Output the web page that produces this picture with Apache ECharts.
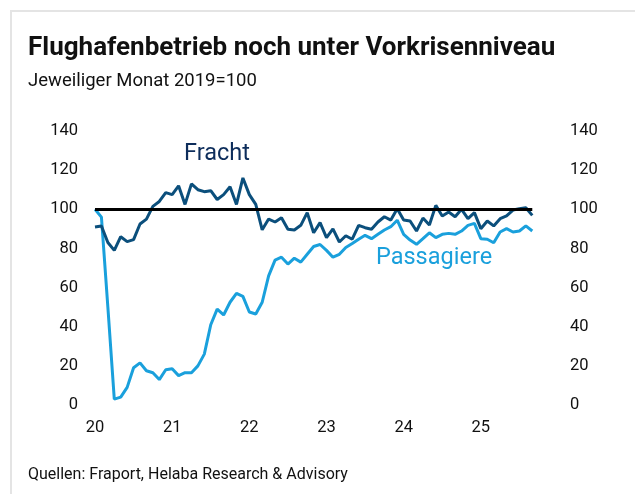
<!DOCTYPE html>
<html>
<head>
<meta charset="utf-8">
<script src="https://cdn.jsdelivr.net/npm/echarts@6/dist/echarts.min.js"></script>
<style>
html,body{margin:0;padding:0;background:#fff;}
#chart{width:635px;height:494px;}
</style>
</head>
<body>
<div id="chart"></div>
<script>
// Monthly categories Jan 2020 .. Jan 2026 (axis extent)
const years = [2020, 2021, 2022, 2023, 2024, 2025, 2026];
const months = [];
years.forEach(y => { for (let m = 1; m <= 12; m++) { if (y === 2026 && m > 1) break; months.push(y + '-' + String(m).padStart(2, '0')); } });

const yearTickLabels = ['20', '21', '22', '23', '24', '25'];

// Index (jeweiliger Monat 2019 = 100), Jan 2020 .. Sep 2025
const fracht = [
  91, 91.5, 83, 79, 86, 83.5, 84.5, 92.5, 95, 101.5, 104, 108.5,
  107.5, 112, 102.5, 113, 110, 109, 109.5, 105, 107.5, 111.5, 102.5, 116,
  107.5, 102.5, 89.5, 95, 93.5, 95.7, 89.8, 89.4, 91.8, 98.3, 88, 93.2,
  85.5, 90, 83.3, 86.5, 84.7, 91.8, 90.6, 89.8, 93.5, 96.2, 94.5, 100.3,
  94.5, 94, 88.9, 95.5, 92, 102, 96.6, 98.6, 96.2, 100, 95.2, 98.3,
  90.1, 94, 91.5, 95.2, 96.6, 99.6, 100.3, 100.8, 96.9
];
const passagiere = [
  100, 96, 50, 3, 4, 9, 19, 21.5, 17.5, 16.5, 13, 18,
  18.5, 15, 16.5, 16.5, 20, 26, 41, 49, 46, 52.5, 57, 55.5,
  47.5, 46.5, 52.5, 66, 74, 75.5, 72, 75, 73, 77, 81, 82,
  79, 75.5, 77, 80.5, 82.5, 84.7, 86.7, 85, 87.2, 89.4, 91.1, 94.4,
  87.2, 84.3, 82.1, 85, 88, 85.5, 87.2, 87.7, 87.2, 88.9, 91.8, 92.8,
  85, 84.7, 82.9, 88.4, 90.1, 88.4, 88.9, 91.5, 88.9
];
const baseline = 100;
const yTicks = { min: 0, max: 140, interval: 20 };

const FONT = 'Roboto';
const chart = echarts.init(document.getElementById('chart'), null, { renderer: 'canvas' });

const lastMonth = months[fracht.length - 1];

chart.setOption({
  animation: false,
  backgroundColor: '#ffffff',
  textStyle: { fontFamily: FONT },
  title: [
    { text: 'Flughafenbetrieb noch unter Vorkrisenniveau', left: 23, top: 30,
      textStyle: { fontFamily: FONT, fontSize: 26, fontWeight: 'bold', color: '#111' } },
    { text: 'Jeweiliger Monat 2019=100', left: 23, top: 67,
      textStyle: { fontFamily: FONT, fontSize: 18.5, fontWeight: 'normal', color: '#111' } },
    { text: 'Quellen: Fraport, Helaba Research & Advisory', left: 23, top: 462,
      textStyle: { fontFamily: FONT, fontSize: 16, fontWeight: 'normal', color: '#111' } }
  ],
  graphic: [
    { type: 'rect', shape: { x: 11, y: 11, width: 700, height: 600 }, silent: true,
      style: { fill: 'none', stroke: '#e4e4e4', lineWidth: 2 }, z: -10 },
    { type: 'text', left: 184, top: 142,
      style: { text: 'Fracht', fontFamily: FONT, fontSize: 23.5, fill: '#0d2d5b' } },
    { type: 'text', left: 376, top: 246,
      style: { text: 'Passagiere', fontFamily: FONT, fontSize: 23.5, fill: '#1aa0dc' } }
  ],
  grid: { left: 95, right: 77, top: 131, bottom: 89, containLabel: false },
  xAxis: {
    type: 'category',
    data: months,
    boundaryGap: false,
    axisLine: { show: false },
    axisTick: { show: false },
    splitLine: { show: false },
    axisLabel: {
      margin: 14,
      fontFamily: FONT, fontSize: 16.5, color: '#111',
      interval: (idx, val) => val.endsWith('-01') && yearTickLabels.includes(val.slice(2, 4)),
      formatter: val => val.slice(2, 4)
    }
  },
  yAxis: [
    { type: 'value', position: 'left', min: yTicks.min, max: yTicks.max, interval: yTicks.interval,
      axisLine: { show: false }, axisTick: { show: false }, splitLine: { show: false },
      axisLabel: { margin: 17, fontFamily: FONT, fontSize: 16.5, color: '#111' } },
    { type: 'value', position: 'right', min: yTicks.min, max: yTicks.max, interval: yTicks.interval,
      axisLine: { show: false }, axisTick: { show: false }, splitLine: { show: false },
      axisLabel: { margin: 12, fontFamily: FONT, fontSize: 16.5, color: '#111' } }
  ],
  series: [
    {
      name: 'Passagiere', type: 'line', data: passagiere, yAxisIndex: 0,
      showSymbol: false, symbol: 'none',
      lineStyle: { color: '#1aa0dc', width: 3 },
      itemStyle: { color: '#1aa0dc' },
      z: 2,
      markLine: {
        silent: true, symbol: 'none', label: { show: false },
        lineStyle: { color: '#000', width: 3, type: 'solid' },
        data: [[{ coord: [months[0], baseline] }, { coord: [lastMonth, baseline] }]]
      }
    },
    {
      name: 'Fracht', type: 'line', data: fracht, yAxisIndex: 0,
      showSymbol: false, symbol: 'none',
      lineStyle: { color: '#0b4f7c', width: 3 },
      itemStyle: { color: '#0b4f7c' },
      z: 3
    }
  ]
});
</script>
</body>
</html>
